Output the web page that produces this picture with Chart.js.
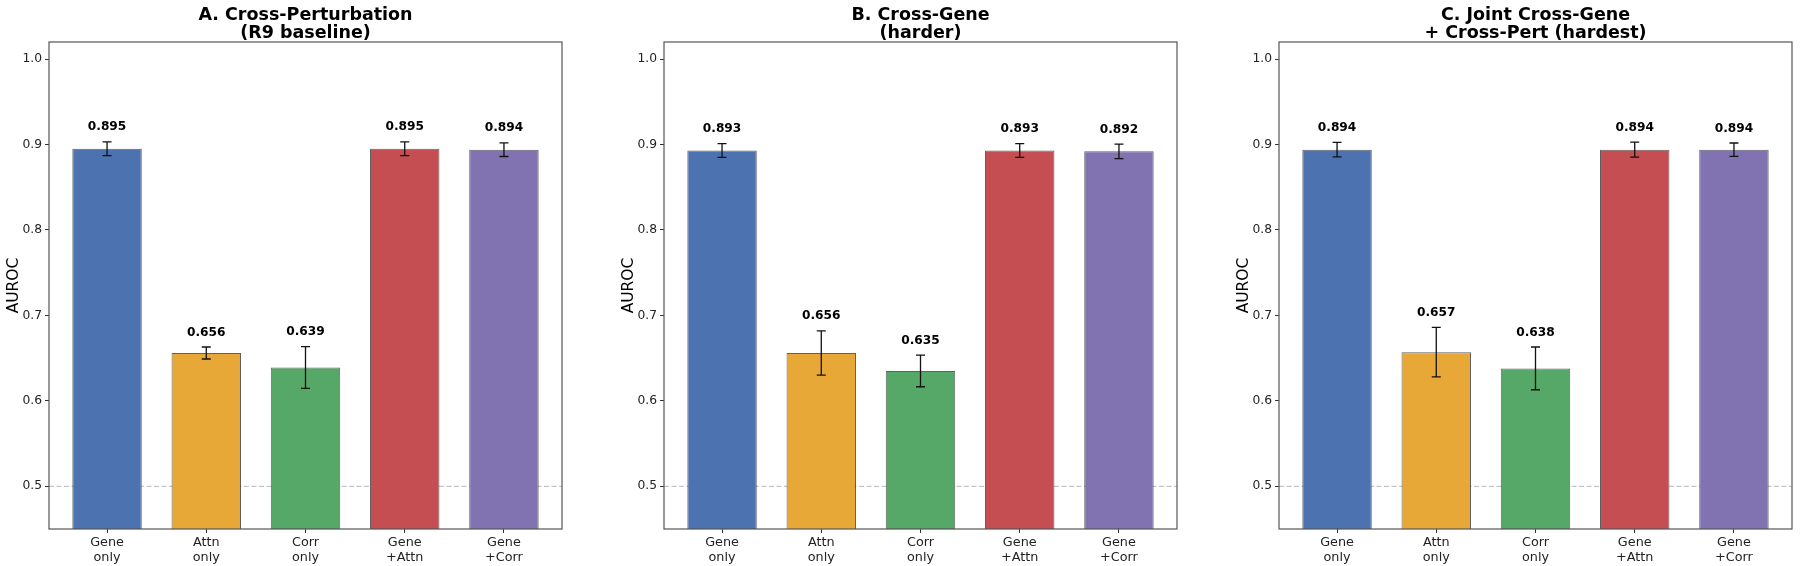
<!DOCTYPE html>
<html>
<head>
<meta charset="utf-8">
<script src="https://cdn.jsdelivr.net/npm/chart.js@4"></script>
<style>
  body { margin: 0; background: #fff; }
  #wrap { position: relative; width: 1800px; height: 566px; }
  canvas { position: absolute; top: 0; }
</style>
</head>
<body>
<div id="wrap">
  <canvas id="chartA" width="570" height="566" style="left:0px"></canvas>
  <canvas id="chartB" width="570" height="566" style="left:615px"></canvas>
  <canvas id="chartC" width="570" height="566" style="left:1230px"></canvas>
</div>
<script>
const categorias = ["Gene\nonly", "Attn\nonly", "Corr\nonly", "Gene\n+Attn", "Gene\n+Corr"];
const colores = ["#4c72b0", "#e8a838", "#55a868", "#c44e52", "#8172b2"];
const yTicks = [0.5, 0.6, 0.7, 0.8, 0.9, 1.0];

const tituloA = ["A. Cross-Perturbation", "(R9 baseline)"];
const valoresA = [0.895, 0.656, 0.639, 0.895, 0.894];
const erroresA = [0.008, 0.007, 0.0245, 0.008, 0.008];

const tituloB = ["B. Cross-Gene", "(harder)"];
const valoresB = [0.893, 0.656, 0.635, 0.893, 0.892];
const erroresB = [0.008, 0.026, 0.0185, 0.008, 0.0085];

const tituloC = ["C. Joint Cross-Gene", "+ Cross-Pert (hardest)"];
const valoresC = [0.894, 0.657, 0.638, 0.894, 0.894];
const erroresC = [0.0085, 0.029, 0.025, 0.0087, 0.0078];

const FONT = "'DejaVu Sans', sans-serif";

// frame, baseline, error bars, value labels and title
const extras = {
  id: "extras",
  beforeDatasetsDraw(chart) {
    const { ctx, chartArea, scales } = chart;
    const y = scales.y.getPixelForValue(0.5);
    ctx.save();
    ctx.strokeStyle = "rgba(128,128,128,0.45)";
    ctx.lineWidth = 1.2;
    ctx.setLineDash([5, 2.5]);
    ctx.beginPath();
    ctx.moveTo(chartArea.left, y);
    ctx.lineTo(chartArea.right, y);
    ctx.stroke();
    ctx.restore();
  },
  afterDatasetsDraw(chart) {
    const { ctx, chartArea, scales } = chart;
    const cfg = chart.options.plugins.extras;
    ctx.save();
    ctx.strokeStyle = "#111";
    ctx.lineWidth = 1.3;
    cfg.valores.forEach((v, i) => {
      const x = scales.x.getPixelForValue(i);
      const yTop = scales.y.getPixelForValue(v + cfg.errores[i]);
      const yBot = scales.y.getPixelForValue(v - cfg.errores[i]);
      ctx.beginPath();
      ctx.moveTo(x, yTop); ctx.lineTo(x, yBot);
      ctx.moveTo(x - 4.5, yTop); ctx.lineTo(x + 4.5, yTop);
      ctx.moveTo(x - 4.5, yBot); ctx.lineTo(x + 4.5, yBot);
      ctx.stroke();

      ctx.fillStyle = "#000";
      ctx.font = "bold 12.2px " + FONT;
      ctx.textAlign = "center";
      ctx.textBaseline = "bottom";
      ctx.fillText(v.toFixed(3), x, scales.y.getPixelForValue(v + cfg.errores[i] + 0.01));
    });

    ctx.strokeStyle = "#555";
    ctx.lineWidth = 1.2;
    ctx.strokeRect(chartArea.left, chartArea.top, chartArea.right - chartArea.left, chartArea.bottom - chartArea.top);

    const cx = (chartArea.left + chartArea.right) / 2;
    ctx.fillStyle = "#000";
    ctx.font = "bold 17.5px " + FONT;
    ctx.textAlign = "center";
    ctx.textBaseline = "alphabetic";
    ctx.fillText(cfg.titulo[0], cx, 19.5);
    ctx.fillText(cfg.titulo[1], cx, 37.5);
    ctx.restore();
  }
};

function renderGrafico(id, titulo, valores, errores) {
  const ctx = document.getElementById(id).getContext("2d");
  return new Chart(ctx, {
    type: "bar",
    data: {
      datasets: [{
        data: valores.map((v, i) => ({ x: i, y: v })),
        backgroundColor: colores,
        borderColor: "rgba(30,30,30,0.7)",
        borderWidth: 1,
        barPercentage: 0.7,
        categoryPercentage: 1
      }]
    },
    options: {
      responsive: false,
      animation: false,
      devicePixelRatio: 1,
      layout: { padding: { top: 42, right: 8, left: 0, bottom: 0 } },
      plugins: {
        legend: { display: false },
        tooltip: { enabled: false },
        extras: { titulo: titulo, valores: valores, errores: errores }
      },
      scales: {
        x: {
          type: "linear",
          min: -0.585,
          max: 4.585,
          offset: false,
          afterBuildTicks: (scale) => { scale.ticks = categorias.map((_, i) => ({ value: i })); },
          afterFit: (scale) => { scale.height = 37; },
          grid: { offset: false, drawOnChartArea: false, drawTicks: true, tickLength: 4, tickColor: "#333" },
          border: { display: false },
          ticks: {
            autoSkip: false,
            maxRotation: 0,
            padding: 2,
            color: "#222",
            font: { family: FONT, size: 12.8, lineHeight: 1.16 },
            callback: (v) => categorias[v] ? categorias[v].split("\n") : ""
          }
        },
        y: {
          min: 0.45,
          max: 1.02,
          afterBuildTicks: (scale) => { scale.ticks = yTicks.map(v => ({ value: v })); },
          afterFit: (scale) => { scale.width = 49; },
          grid: { drawOnChartArea: false, drawTicks: true, tickLength: 4, tickColor: "#333" },
          border: { display: false },
          ticks: {
            padding: 3,
            color: "#222",
            font: { family: FONT, size: 12.3 },
            callback: (v) => v.toFixed(1)
          },
          title: {
            display: true,
            text: "AUROC",
            color: "#000",
            font: { family: FONT, size: 15.5 },
            padding: { top: 4.7, bottom: 0 }
          }
        }
      }
    },
    plugins: [extras]
  });
}

renderGrafico("chartA", tituloA, valoresA, erroresA);
renderGrafico("chartB", tituloB, valoresB, erroresB);
renderGrafico("chartC", tituloC, valoresC, erroresC);
</script>
</body>
</html>
